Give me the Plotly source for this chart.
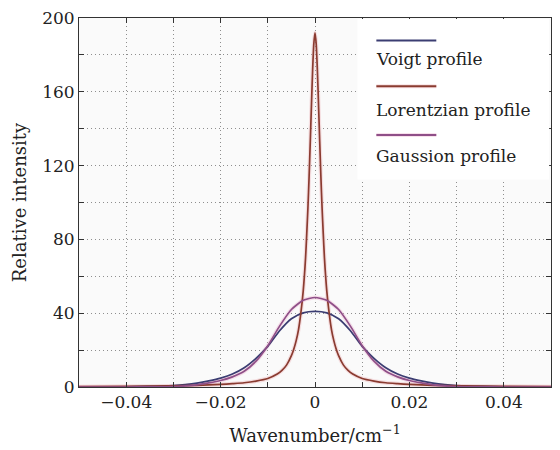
import plotly.graph_objects as go

# Wavenumber grid (cm^-1) and intensities for the broad profiles
wn_broad = [-0.05, -0.045, -0.04, -0.035, -0.03, -0.0275, -0.025, -0.0225, -0.02,
            -0.0175, -0.015, -0.0125, -0.01, -0.0075, -0.005, -0.0025, 0.0,
            0.0025, 0.005, 0.0075, 0.01, 0.0125, 0.015, 0.0175, 0.02,
            0.0225, 0.025, 0.0275, 0.03, 0.035, 0.04, 0.045, 0.05]
voigt = [0.02, 0.04, 0.1, 0.3, 0.8, 1.3, 2.1, 3.3, 4.8,
         7.0, 10.4, 15.5, 22.0, 30.5, 37.0, 40.2, 41.0,
         40.2, 37.0, 30.5, 22.0, 15.5, 10.4, 7.0, 4.8,
         3.3, 2.1, 1.3, 0.8, 0.3, 0.1, 0.04, 0.02]
gauss = [0.0, 0.0, 0.0, 0.05, 0.25, 0.6, 1.2, 2.2, 3.5,
         5.5, 8.5, 14.0, 22.4, 33.0, 42.0, 47.0, 48.5,
         47.0, 42.0, 33.0, 22.4, 14.0, 8.5, 5.5, 3.5,
         2.2, 1.2, 0.6, 0.25, 0.05, 0.0, 0.0, 0.0]

# Finer grid for the narrow Lorentzian line
wn_lor = [-0.05, -0.04, -0.03, -0.025, -0.02, -0.0175, -0.015, -0.0125, -0.01,
          -0.008, -0.007, -0.006, -0.005, -0.0045, -0.004, -0.0035, -0.003,
          -0.0025, -0.002, -0.00175, -0.0015, -0.00125, -0.001, -0.00075,
          -0.0005, -0.00025, 0.0,
          0.00025, 0.0005, 0.00075, 0.001, 0.00125, 0.0015, 0.00175, 0.002,
          0.0025, 0.003, 0.0035, 0.004, 0.0045, 0.005, 0.006, 0.007, 0.008,
          0.01, 0.0125, 0.015, 0.0175, 0.02, 0.025, 0.03, 0.04, 0.05]
lorentz = [0.2, 0.35, 0.6, 0.9, 1.4, 1.8, 2.3, 3.2, 4.6,
           7.0, 9.0, 12.0, 17.0, 20.5, 25.0, 31.0, 40.0,
           52.0, 70.0, 83.0, 97.0, 114.0, 133.0, 153.0,
           172.0, 186.0, 192.0,
           186.0, 172.0, 153.0, 133.0, 114.0, 97.0, 83.0, 70.0,
           52.0, 40.0, 31.0, 25.0, 20.5, 17.0, 12.0, 9.0, 7.0,
           4.6, 3.2, 2.3, 1.8, 1.4, 0.9, 0.6, 0.35, 0.2]

names = ["Voigt profile", "Lorentzian profile", "Gaussion profile"]
colors = ["#3b3d72", "#8a3b30", "#8f4f88"]
halo = ["rgba(0,0,0,0)", "rgba(235,170,175,0.35)", "rgba(235,170,200,0.35)"]

x_ticks = [-0.04, -0.02, 0, 0.02, 0.04]
y_ticks = [0, 40, 80, 120, 160, 200]

SERIF = "DejaVu Serif"
TICK = dict(family=SERIF, size=17, color="#222")
TITLE = dict(family=SERIF, size=18, color="#222")
GRID = dict(showgrid=True, gridcolor="#8e8e8e", griddash="1px,3px", gridwidth=1.2)

fig = go.Figure()
series = [(wn_broad, voigt), (wn_lor, lorentz), (wn_broad, gauss)]

# soft glow under the reddish curves
for (xs, ys), h in zip(series, halo):
    fig.add_trace(go.Scatter(x=xs, y=ys, mode="lines",
                             line=dict(color=h, width=4, shape="spline", smoothing=0.6),
                             hoverinfo="skip", showlegend=False))
for (xs, ys), name, c in zip(series, names, colors):
    fig.add_trace(go.Scatter(x=xs, y=ys, mode="lines", name=name,
                             line=dict(color=c, width=1.7, shape="spline", smoothing=0.6),
                             showlegend=False))

axis_common = dict(ticks="inside", ticklen=5, tickcolor="#333", mirror="ticks",
                   showline=True, linecolor="#333", linewidth=1, zeroline=False,
                   tickfont=TICK, **GRID)
fig.update_xaxes(range=[-0.05, 0.05], tickvals=x_ticks, **axis_common,
                 minor=dict(dtick=0.01, tick0=0, ticks="inside", ticklen=5, tickcolor="#333", **GRID),
                 title=dict(text="Wavenumber/cm<sup>−1</sup>", font=TITLE, standoff=17))
fig.update_yaxes(range=[0, 200], tickvals=y_ticks, **axis_common,
                 minor=dict(dtick=20, tick0=0, ticks="inside", ticklen=5, tickcolor="#333", **GRID),
                 title=dict(text="Relative intensity", font=TITLE, standoff=10))

# hand-built legend box: sample line above each label
shapes = [dict(type="rect", xref="paper", yref="paper", x0=0.59, x1=0.996, y0=0.562, y1=0.997,
               fillcolor="white", line=dict(width=0), layer="above")]
annotations = []
line_y = [0.939, 0.815, 0.683]
text_y = [0.890, 0.752, 0.626]
for name, c, h, ly, ty in zip(names, colors, halo, line_y, text_y):
    shapes.append(dict(type="line", xref="paper", yref="paper", x0=0.630, x1=0.757, y0=ly, y1=ly,
                       line=dict(color=h, width=4), layer="above"))
    shapes.append(dict(type="line", xref="paper", yref="paper", x0=0.630, x1=0.757, y0=ly, y1=ly,
                       line=dict(color=c, width=2), layer="above"))
    annotations.append(dict(xref="paper", yref="paper", x=0.626, y=ty, xanchor="left", yanchor="middle",
                            text=name, showarrow=False, font=TICK))

fig.update_layout(width=560, height=450, margin=dict(l=79, r=8, t=15, b=63),
                  paper_bgcolor="white", plot_bgcolor="#fafafa",
                  font=TICK, shapes=shapes, annotations=annotations, showlegend=False)

fig.write_html("out.html")
